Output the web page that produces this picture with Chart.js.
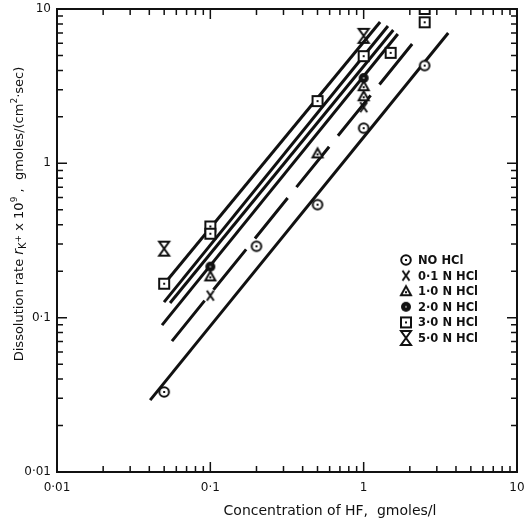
<!DOCTYPE html>
<html>
<head>
<meta charset="utf-8">
<script src="https://cdn.jsdelivr.net/npm/chart.js@4.4.1/dist/chart.umd.min.js"></script>
<style>
  html, body { margin: 0; padding: 0; background: #fff; }
  #wrap { width: 526px; height: 525px; }
</style>
</head>
<body>
<div id="wrap"><canvas id="chart"></canvas></div>
<script>
// HF concentration (gmoles/l) vs dissolution rate, one pair of arrays per HCl strength
const noHclX = [0.05, 0.2, 0.5, 1, 2.5];
const noHclY = [0.033, 0.29, 0.54, 1.69, 4.3];
const hcl01X = [0.1, 1];
const hcl01Y = [0.139, 2.31];
const hcl10X = [0.1, 0.5, 1, 1];
const hcl10Y = [0.185, 1.16, 2.72, 3.16];
const hcl20X = [0.1, 1];
const hcl20Y = [0.214, 3.57];
const hcl30X = [0.05, 0.1, 0.1, 0.5, 1, 1.5, 2.5, 2.5];
const hcl30Y = [0.166, 0.39, 0.35, 2.53, 4.95, 5.2, 8.2, 10];
const hcl50X = [0.05, 1];
const hcl50Y = [0.28, 6.7];

const seriesLabels = ['NO HCl', '0·1 N HCl', '1·0 N HCl', '2·0 N HCl', '3·0 N HCl', '5·0 N HCl'];

// straight fit lines, bottom one first
const fitStartX = [0.0405, 0.0562, 0.0484, 0.0546, 0.0499, 0.0506];
const fitStartY = [0.0292, 0.0705, 0.0895, 0.1245, 0.126, 0.1676];
const fitEndX = [3.56, 2.10, 1.67, 1.56, 1.44, 1.28];
const fitEndY = [6.99, 6.03, 6.89, 7.31, 7.76, 8.24];

const majorTicks = [0.01, 0.1, 1, 10];
const tickLabels = ['0·01', '0·1', '1', '10'];

const INK = '#111';
const FONT = "'DejaVu Sans', sans-serif";

// marker glyphs drawn on small canvases, used as point styles
function makeMarker(kind) {
    const c = document.createElement('canvas');
    c.width = 18;
    c.height = 18;
    const g = c.getContext('2d');
    const m = 9;
    g.strokeStyle = INK;
    g.fillStyle = INK;
    g.lineWidth = 2;
    if (kind === 'circle') {
        g.beginPath();
        g.arc(m, m, 4.8, 0, 2 * Math.PI);
        g.fillStyle = '#fff';
        g.fill();
        g.stroke();
        g.fillStyle = INK;
        g.fillRect(m - 1, m - 1, 2, 2);
    } else if (kind === 'cross') {
        g.beginPath();
        g.moveTo(m - 3.5, m - 5);
        g.lineTo(m + 3.5, m + 5);
        g.moveTo(m + 3.5, m - 5);
        g.lineTo(m - 3.5, m + 5);
        g.stroke();
    } else if (kind === 'triangle') {
        g.beginPath();
        g.moveTo(m, m - 5);
        g.lineTo(m + 5, m + 4);
        g.lineTo(m - 5, m + 4);
        g.closePath();
        g.fillStyle = '#fff';
        g.fill();
        g.stroke();
        g.fillStyle = INK;
        g.fillRect(m - 1, m, 2, 2);
    } else if (kind === 'disc') {
        g.beginPath();
        g.arc(m, m, 5, 0, 2 * Math.PI);
        g.fill();
        g.fillStyle = '#777';
        g.fillRect(m - 1, m - 1, 2, 2);
    } else if (kind === 'square') {
        g.fillStyle = '#fff';
        g.fillRect(m - 5, m - 5, 10, 10);
        g.strokeRect(m - 5, m - 5, 10, 10);
        g.fillStyle = INK;
        g.fillRect(m - 1, m - 1, 2, 2);
    } else if (kind === 'hourglass') {
        g.beginPath();
        g.moveTo(m - 5, m - 7);
        g.lineTo(m + 5, m - 7);
        g.lineTo(m - 5, m + 7);
        g.lineTo(m + 5, m + 7);
        g.closePath();
        g.stroke();
    }
    return c;
}

const markerKinds = ['circle', 'cross', 'triangle', 'disc', 'square', 'hourglass'];
const markerImgs = markerKinds.map(makeMarker);

function pairs(xs, ys) {
    return xs.map((x, i) => ({ x: x, y: ys[i] }));
}

const pointSets = [
    pairs(noHclX, noHclY),
    pairs(hcl01X, hcl01Y),
    pairs(hcl10X, hcl10Y),
    pairs(hcl20X, hcl20Y),
    pairs(hcl30X, hcl30Y),
    pairs(hcl50X, hcl50Y)
];

const datasets = [];
pointSets.forEach((pts, i) => {
    datasets.push({
        label: seriesLabels[i],
        data: pts,
        showLine: false,
        pointStyle: markerImgs[i],
        pointRadius: 6
    });
});
fitStartX.forEach((x0, i) => {
    datasets.push({
        label: 'fit ' + i,
        data: [{ x: x0, y: fitStartY[i] }, { x: fitEndX[i], y: fitEndY[i] }],
        showLine: true,
        pointRadius: 0,
        borderColor: INK,
        borderWidth: 3,
        borderCapStyle: 'butt',
        borderDash: i === 1 ? [52, 14] : []
    });
});

// minor tick positions 2..9 inside each decade
const minorTicks = [];
majorTicks.slice(0, -1).forEach(d => {
    for (let k = 2; k <= 9; k++) minorTicks.push(d * k);
});

// frame, inward ticks, titles and legend
const decorations = {
    id: 'decorations',
    afterDraw(chart) {
        const ctx = chart.ctx;
        const a = chart.chartArea;
        const xs = chart.scales.x;
        const ys = chart.scales.y;
        ctx.save();
        ctx.strokeStyle = INK;
        ctx.lineWidth = 2;
        ctx.strokeRect(a.left, a.top, a.right - a.left, a.bottom - a.top);

        ctx.lineWidth = 1.5;
        ctx.beginPath();
        const tick = (v, len) => {
            const px = xs.getPixelForValue(v);
            ctx.moveTo(px, a.bottom);
            ctx.lineTo(px, a.bottom - len);
            ctx.moveTo(px, a.top);
            ctx.lineTo(px, a.top + len);
            const py = ys.getPixelForValue(v);
            ctx.moveTo(a.left, py);
            ctx.lineTo(a.left + len, py);
            ctx.moveTo(a.right, py);
            ctx.lineTo(a.right - len, py);
        };
        majorTicks.forEach(v => tick(v, 10));
        minorTicks.forEach(v => tick(v, 6));
        ctx.stroke();

        // x title
        ctx.fillStyle = INK;
        ctx.font = '14px ' + FONT;
        ctx.textAlign = 'center';
        ctx.textBaseline = 'alphabetic';
        ctx.fillText('Concentration of HF,  gmoles/l', 330, 515);

        // y title with subscript and superscripts
        const pieces = [
            { t: 'Dissolution rate ', size: 13, dy: 0 },
            { t: 'r', size: 14, dy: 0, italic: true },
            { t: 'K', size: 10, dy: 3 },
            { t: '+', size: 9, dy: -2 },
            { t: ' x 10', size: 13, dy: 0 },
            { t: '9', size: 9, dy: -6 },
            { t: ' ,  gmoles/(cm', size: 13, dy: 0 },
            { t: '2', size: 9, dy: -6 },
            { t: '·sec)', size: 13, dy: 0 }
        ];
        const fontOf = p => (p.italic ? 'italic ' : '') + p.size + 'px ' + FONT;
        let total = 0;
        pieces.forEach(p => {
            ctx.font = fontOf(p);
            p.w = ctx.measureText(p.t).width;
            total += p.w;
        });
        ctx.translate(23, 214);
        ctx.rotate(-Math.PI / 2);
        ctx.textAlign = 'left';
        let cx = -total / 2;
        pieces.forEach(p => {
            ctx.font = fontOf(p);
            ctx.fillText(p.t, cx, p.dy);
            cx += p.w;
        });
        ctx.setTransform(1, 0, 0, 1, 0, 0);

        // legend
        ctx.font = 'bold 11.5px ' + FONT;
        ctx.textAlign = 'left';
        ctx.textBaseline = 'middle';
        seriesLabels.forEach((label, i) => {
            const ly = 260 + i * 15.6;
            const img = markerImgs[i];
            ctx.drawImage(img, 406 - img.width / 2, ly - img.height / 2);
            ctx.fillText(label, 418, ly + 1);
        });
        ctx.restore();
    }
};

const tickFont = { family: FONT, size: 12 };

// keep the plot box fixed: no extra room reserved for edge labels
function noEdgePadding(s) {
    s.paddingLeft = 0;
    s.paddingRight = 0;
    s.paddingTop = 0;
    s.paddingBottom = 0;
}

new Chart(document.getElementById('chart'), {
    type: 'scatter',
    data: { datasets: datasets },
    options: {
        responsive: true,
        maintainAspectRatio: false,
        animation: false,
        layout: { padding: { top: 9, right: 9, left: 0, bottom: 0 } },
        plugins: {
            legend: { display: false },
            tooltip: { enabled: false }
        },
        scales: {
            x: {
                type: 'logarithmic',
                min: 0.01,
                max: 10,
                afterBuildTicks: s => { s.ticks = majorTicks.map(v => ({ value: v })); },
                afterFit: s => { s.height = 53; noEdgePadding(s); },
                grid: { display: false, drawTicks: false },
                border: { display: false },
                ticks: {
                    autoSkip: false,
                    maxRotation: 0,
                    padding: 9,
                    color: INK,
                    font: tickFont,
                    callback: (v, i) => tickLabels[i]
                }
            },
            y: {
                type: 'logarithmic',
                min: 0.01,
                max: 10,
                afterBuildTicks: s => { s.ticks = majorTicks.map(v => ({ value: v })); },
                afterFit: s => { s.width = 57; noEdgePadding(s); },
                grid: { display: false, drawTicks: false },
                border: { display: false },
                ticks: {
                    autoSkip: false,
                    padding: 6,
                    color: INK,
                    font: tickFont,
                    callback: (v, i) => tickLabels[i]
                }
            }
        }
    },
    plugins: [decorations]
});
</script>
</body>
</html>
